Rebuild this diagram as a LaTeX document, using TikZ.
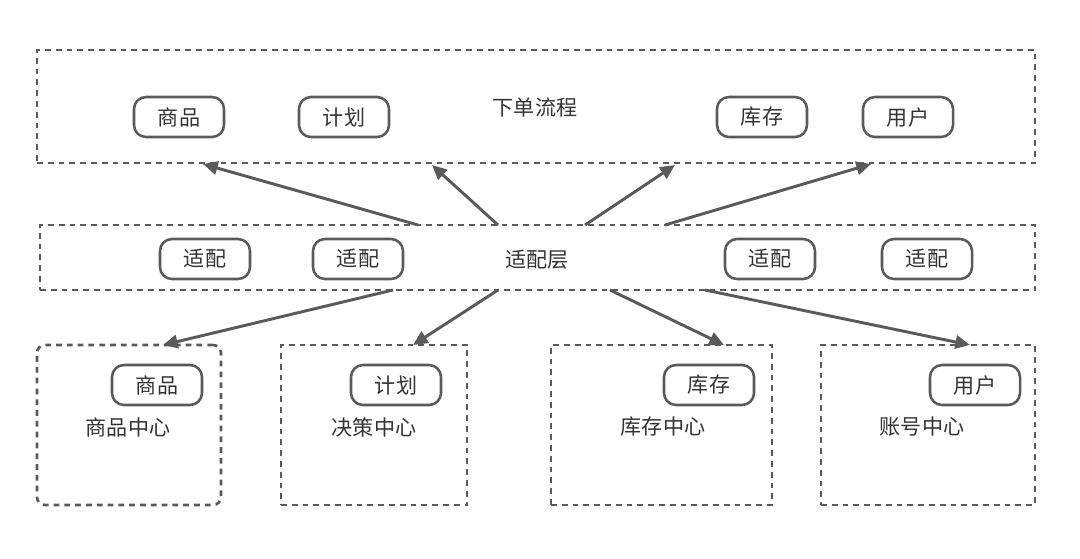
\documentclass[tikz,border=0pt]{standalone}
\usepackage{fontspec}
\setmainfont{Noto Sans CJK SC}
\usetikzlibrary{arrows.meta}
\definecolor{ln}{HTML}{5A5A5A}
\definecolor{tx}{HTML}{333333}
\begin{document}
\begin{tikzpicture}[x=0.75pt,y=-0.75pt,
  dbox/.style={draw=ln, line width=2pt, dash pattern=on 4.3pt off 3.8pt, inner sep=0pt},
  pill/.style={draw=ln, line width=1.9pt, rounded corners=9pt, minimum width=67.5pt, minimum height=30pt, inner sep=0pt, font=\fontsize{15.8}{18}\selectfont, text=tx},
  lbl/.style={font=\fontsize{15.8}{18}\selectfont, text=tx, inner sep=0pt},
  arr/.style={draw=ln, line width=2.2pt, -{Triangle[length=11pt,width=10pt]}}]
\useasboundingbox (0,0) rectangle (1080,558);
% frames
\node[dbox, minimum width=748.5pt, minimum height=84.75pt] (top) at (536,106.5) {};
\node[dbox, minimum width=746.25pt, minimum height=48.75pt] (mid) at (537.5,257.5) {};
\node[dbox, rounded corners=6pt, minimum width=138pt, minimum height=120pt] (b1) at (129,425) {};
\node[dbox, minimum width=139.5pt, minimum height=120pt] (b2) at (374,425) {};
\node[dbox, minimum width=165.75pt, minimum height=120pt] (b3) at (661.5,425) {};
\node[dbox, minimum width=160.5pt, minimum height=120pt] (b4) at (928,425) {};
% top content
\node[lbl] (tt) at (535,107) {下单流程};
\node[pill] (p1) at (179,117) {商品};
\node[pill] (p2) at (344,117) {计划};
\node[pill] (p3) at (762,117) {库存};
\node[pill] (p4) at (908,117) {用户};
% middle content
\node[lbl] (mt) at (537,260) {适配层};
\node[pill] (a1) at (205,259) {适配};
\node[pill] (a2) at (358,259) {适配};
\node[pill] (a3) at (770,259) {适配};
\node[pill] (a4) at (927,259) {适配};
% bottom content
\node[pill] (c1) at (157,385) {商品};
\node[lbl] (t1) at (128,427) {商品中心};
\node[pill] (c2) at (396,385) {计划};
\node[lbl] (t2) at (374,427) {决策中心};
\node[pill] (c3) at (709,385) {库存};
\node[lbl] (t3) at (663,427) {库存中心};
\node[pill] (c4) at (975,385) {用户};
\node[lbl] (t4) at (922,427) {账号中心};
% arrow anchor points on frame borders
\coordinate (u1s) at (418,225); \coordinate (u1e) at (203,164);
\coordinate (u2s) at (498,225); \coordinate (u2e) at (432,165);
\coordinate (u3s) at (585,225); \coordinate (u3e) at (675,165);
\coordinate (u4s) at (665,225); \coordinate (u4e) at (871,164);
\coordinate (d1s) at (393,290); \coordinate (d1e) at (163,345);
\coordinate (d2s) at (498,290); \coordinate (d2e) at (413,345);
\coordinate (d3s) at (610,290); \coordinate (d3e) at (724,345);
\coordinate (d4s) at (705,290); \coordinate (d4e) at (970,345);
\draw[arr] (u1s) -- (u1e);
\draw[arr] (u2s) -- (u2e);
\draw[arr] (u3s) -- (u3e);
\draw[arr] (u4s) -- (u4e);
\draw[arr] (d1s) -- (d1e);
\draw[arr] (d2s) -- (d2e);
\draw[arr] (d3s) -- (d3e);
\draw[arr] (d4s) -- (d4e);
\end{tikzpicture}
\end{document}
